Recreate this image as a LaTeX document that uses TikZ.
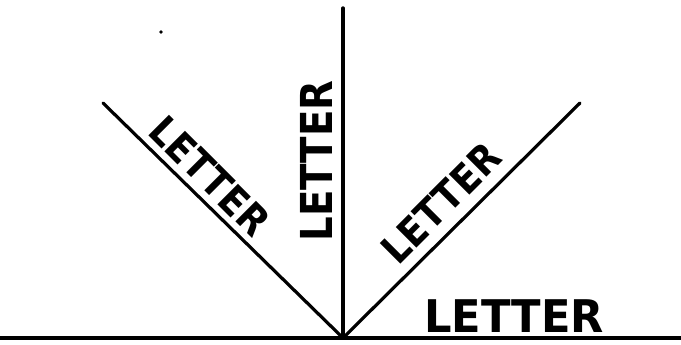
\documentclass[tikz,border=0pt]{standalone}
\usepackage{fontspec}
\setmainfont{DejaVu Sans}
\begin{document}
\begin{tikzpicture}[x=1pt,y=1pt,
  rule/.style={line width=3.4pt,line cap=round},
  lbl/.style={inner sep=0pt,font=\bfseries}]
\useasboundingbox (0,0) rectangle (681,345);
\coordinate (O) at (343,7);
\coordinate (bl) at (0,7);
\coordinate (br) at (681,7);
\coordinate (vt) at (343,337);
\coordinate (lt) at (103,242);
\coordinate (rt) at (580,242);
\draw[line width=3.6pt] (bl) -- (br);
\draw[rule] (O) -- (vt);
\draw[rule,line width=3.2pt] (O) -- (lt);
\draw[rule,line width=3.2pt] (O) -- (rt);
\node[lbl] (th) at (514,28.5) {\fontsize{45}{45}\selectfont\scalebox{0.96}[1]{LETTER}};
\node[lbl,rotate=90] (tv) at (316,184) {\fontsize{44}{44}\selectfont\scalebox{0.88}[1]{LETTER}};
\node[lbl,rotate=-45] (tl) at (210,169) {\fontsize{40}{40}\selectfont\scalebox{0.9}[1]{LETTER}};
\node[lbl,rotate=45] (tr) at (441,142) {\fontsize{40}{40}\selectfont\scalebox{0.9}[1]{LETTER}};
\fill (161,313) circle (1.8);
\end{tikzpicture}
\end{document}
